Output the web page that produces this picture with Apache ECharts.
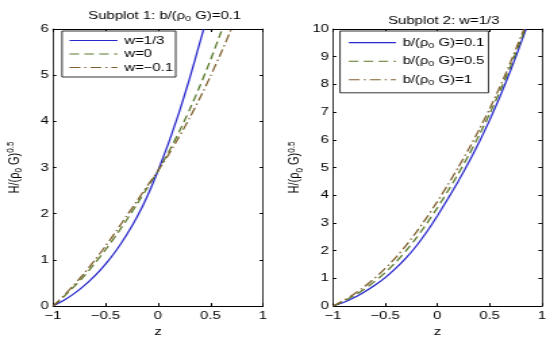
<!DOCTYPE html>
<html><head><meta charset="utf-8">
<script src="https://cdn.jsdelivr.net/npm/echarts@6/dist/echarts.min.js"></script>
<style>html,body{margin:0;padding:0;background:#fff;overflow:hidden}
#c{width:407px;height:342px;transform:scaleX(1.3514);transform-origin:0 0}</style>
</head><body><div id="c"></div>
<script>
// Subplot 1: b/(rho0 G)=0.1
const z1a = [-1,-0.9,-0.8,-0.7,-0.6,-0.5,-0.4,-0.3,-0.2,-0.1,0,0.1,0.2,0.3,0.4,0.435];
const h1a = [0,0.12,0.27,0.45,0.66,0.91,1.20,1.54,1.93,2.39,2.93,3.53,4.19,4.92,5.72,6.0];
const z1b = [-1,-0.9,-0.8,-0.7,-0.6,-0.5,-0.4,-0.3,-0.2,-0.1,0,0.1,0.2,0.3,0.4,0.5,0.6,0.612];
const h1b = [0,0.2,0.42,0.66,0.93,1.22,1.53,1.86,2.21,2.57,2.93,3.33,3.77,4.25,4.77,5.33,5.93,6.0];
const z1c = [-1,-0.9,-0.8,-0.7,-0.6,-0.5,-0.4,-0.3,-0.2,-0.1,0,0.1,0.2,0.3,0.4,0.5,0.6,0.7];
const h1c = [0,0.22,0.46,0.72,1.0,1.3,1.62,1.95,2.28,2.61,2.93,3.28,3.66,4.07,4.51,4.98,5.48,6.01];
const names1 = ['w=1/3','w=0','w=\u22120.1'];
// Subplot 2: w=1/3
const z2a = [-1,-0.9,-0.8,-0.7,-0.6,-0.5,-0.4,-0.3,-0.2,-0.1,0,0.1,0.2,0.3,0.4,0.5,0.6,0.7,0.8,0.848];
const h2a = [0,0.13,0.30,0.51,0.75,1.03,1.36,1.74,2.18,2.69,3.26,3.87,4.51,5.19,5.92,6.71,7.57,8.50,9.50,10.0];
const z2b = [-1,-0.9,-0.8,-0.7,-0.6,-0.5,-0.4,-0.3,-0.2,-0.1,0,0.1,0.2,0.3,0.4,0.5,0.6,0.7,0.8,0.84];
const h2b = [0,0.17,0.37,0.61,0.89,1.21,1.58,2.0,2.47,2.99,3.55,4.15,4.78,5.45,6.17,6.94,7.77,8.66,9.61,10.0];
const z2c = [-1,-0.9,-0.8,-0.7,-0.6,-0.5,-0.4,-0.3,-0.2,-0.1,0,0.1,0.2,0.3,0.4,0.5,0.6,0.7,0.8,0.83];
const h2c = [0,0.2,0.43,0.70,1.01,1.36,1.75,2.19,2.68,3.21,3.78,4.38,5.01,5.67,6.37,7.12,7.93,8.80,9.73,10.0];
const names2 = ['b/(\u03c1{sub|0} G)=0.1','b/(\u03c1{sub|0} G)=0.5','b/(\u03c1{sub|0} G)=1'];

const SX = 1.3514; // horizontal stretch of the picture
const X = v => v / SX;
const FONT = 'Liberation Sans';
const colors = ['#2626cc','#587828','#80602c'];
const dashes = ['solid',[7,4],[8,3,1.5,3]];
const rich = {
  sub:{fontSize:8,fontFamily:FONT,color:'#000',verticalAlign:'bottom',padding:[6,0,0,0]},
  sup:{fontSize:8,fontFamily:FONT,color:'#000',verticalAlign:'top',padding:[0,0,6,0]}
};
const pair = (z,h)=>z.map((v,i)=>[v,h[i]]);
const fmtX = v => (v<0?'\u2212':'') + Math.abs(v);

function xAx(gi, top){
  return {type:'value',gridIndex:gi,min:-1,max:1,interval:0.5,position:top?'top':'bottom',
    name: top?'':'z',nameLocation:'middle',nameGap:17,
    nameTextStyle:{fontFamily:FONT,fontSize:11,color:'#000'},
    axisLine:{show:true,onZero:false,lineStyle:{color:'#000',width:1}},
    axisTick:{show:true,inside:true,length:3,lineStyle:{color:'#000'}},
    axisLabel:{show:!top,fontFamily:FONT,fontSize:11,color:'#000',margin:4,formatter:fmtX},
    splitLine:{show:false}};
}
function yAx(gi, right, max, interval){
  return {type:'value',gridIndex:gi,min:0,max:max,interval:interval,position:right?'right':'left',
    name: right?'':'H/(\u03c1{sub|0} G){sup|0.5}',nameLocation:'middle',nameGap:21,nameRotate:90,
    nameTextStyle:{fontFamily:FONT,fontSize:11,color:'#000',rich:rich},
    axisLine:{show:true,onZero:false,lineStyle:{color:'#000',width:0.8}},
    axisTick:{show:true,inside:true,length:2.5,lineStyle:{color:'#000'}},
    axisLabel:{show:!right,fontFamily:FONT,fontSize:11,color:'#000',margin:3},
    splitLine:{show:false}};
}
function ser(name,data,i,xi,yi){
  return {type:'line',name:name,xAxisIndex:xi,yAxisIndex:yi,data:data,symbol:'none',
    smooth:0.2,clip:true,
    lineStyle:{color:colors[i],width:1.25,type:dashes[i]},itemStyle:{color:colors[i]}};
}
const legendCommon = {orient:'vertical',borderColor:'#000',borderWidth:0.8,backgroundColor:'#fff',
  selectedMode:false,borderRadius:0,
  itemStyle:{opacity:0,color:'rgba(0,0,0,0)',borderWidth:0},
  lineStyle:{width:1.1}};

const chart = echarts.init(document.getElementById('c'),null,{renderer:'canvas'});
chart.setOption({
  animation:false,
  backgroundColor:'#fff',
  title:[
    {text:'Subplot 1: b/(\u03c1{sub|0} G)=0.1',left:X(158),textAlign:'center',top:4,
     textStyle:{fontFamily:FONT,fontSize:11,fontWeight:'normal',color:'#000',rich:rich}},
    {text:'Subplot 2: w=1/3',left:X(437),textAlign:'center',top:10,
     textStyle:{fontFamily:FONT,fontSize:11,fontWeight:'normal',color:'#000'}}
  ],
  grid:[
    {left:X(53),top:29,width:X(210),height:278,show:false},
    {left:X(333),top:29,width:X(209),height:278,show:false}
  ],
  xAxis:[xAx(0,false),xAx(0,true),xAx(1,false),xAx(1,true)],
  yAxis:[yAx(0,false,6,1),yAx(0,true,6,1),yAx(1,false,10,1),yAx(1,true,10,1)],
  legend:[
    Object.assign({},legendCommon,{data:names1,left:X(62),top:31,itemWidth:X(48),itemHeight:12,itemGap:2.5,
     padding:[4,2,4,5],textStyle:{fontFamily:FONT,fontSize:11,color:'#000'}}),
    Object.assign({},legendCommon,{data:names2,left:X(340),top:31,itemWidth:X(47),itemHeight:14,itemGap:6,
     padding:[6,3,6,6],textStyle:{fontFamily:FONT,fontSize:11,color:'#000',rich:rich}})
  ],
  series:[
    ser(names1[0],pair(z1a,h1a),0,0,0),
    ser(names1[1],pair(z1b,h1b),1,0,0),
    ser(names1[2],pair(z1c,h1c),2,0,0),
    ser(names2[0],pair(z2a,h2a),0,2,2),
    ser(names2[1],pair(z2b,h2b),1,2,2),
    ser(names2[2],pair(z2c,h2c),2,2,2)
  ]
});
</script></body></html>
